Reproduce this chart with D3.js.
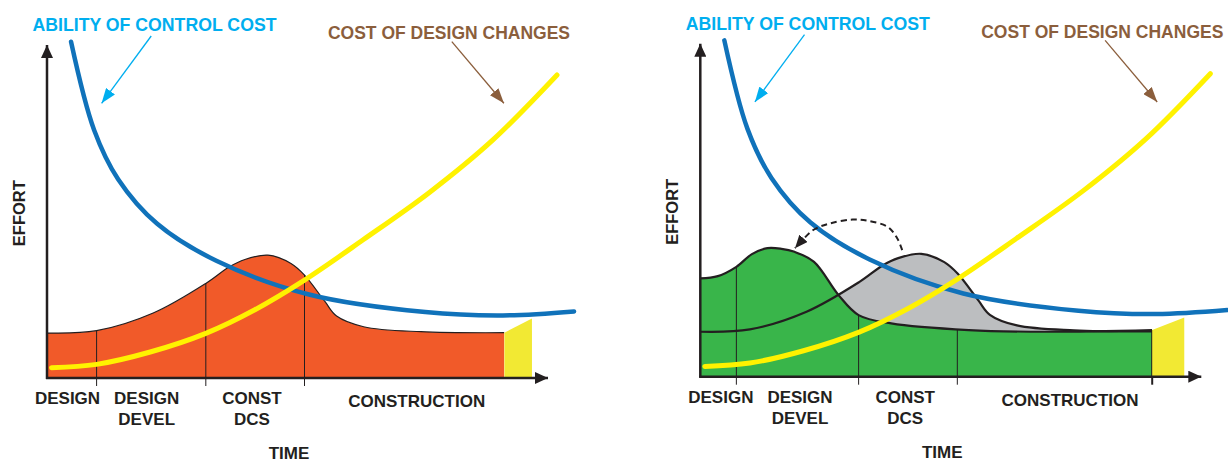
<!DOCTYPE html>
<html>
<head>
<meta charset="utf-8">
<script src="https://cdn.jsdelivr.net/npm/d3@7"></script>
<style>
  body { margin: 0; background: #fff; }
  svg { display: block; }
  text { font-family: "Liberation Sans", Arial, Helvetica, sans-serif; font-weight: bold; }
</style>
</head>
<body>
<div id="vis-container"></div>
<script>
// curves in [time, effort] units (0-100 on both axes)
var ability = [[4.8,101],[9.4,74.5],[14.2,59.7],[22,46.3],[33.8,35.2],[52.5,25],[75.5,19.8],[91,18.8],[105.2,20]]
var designCost = [[0.9,3.1],[9.9,4.1],[20.6,7.8],[31.7,13.4],[41.5,20.5],[51.4,29.4],[63.1,41.5],[76.4,55.8],[89,71.5],[101.8,91]]
var effortTraditional = [[0,13.5],[9.9,14.2],[21.2,19.5],[31.7,28.4],[36.4,33.4],[39.5,35.6],[44.1,36.9],[48.7,34.4],[51.4,30.9],[55.5,22.9],[57.8,18.6],[63.2,15.4],[74.6,13.9],[91.3,13.6]]
var effortShifted = [[0,29.5],[3.5,30.2],[7.2,33],[10.3,36.8],[13.4,38.6],[16.2,38.4],[18.8,37.5],[22.7,34.5],[27.6,24.5],[31.6,18.5],[38.1,16],[53.6,14],[69.1,13.5],[90.2,14]]
var shiftArrow = [[40.3,38],[39.3,41.6],[37.4,45],[33.5,46.8],[30.4,47.2],[25.8,46],[22.7,44.2],[20.3,40.9],[18.9,38.6]]

// phases
var phasesLeft = [9.9,31.7,51.4]
var phasesRight = [7.2,31.6,51.3]
var endLeft = 91.3
var endRight = 90.2
var closeoutLeft = [[91.3,13.6],[96.8,17.9]]
var closeoutRight = [[90.2,14],[96.6,17.8]]
var phaseLabels = [["DESIGN"],["DESIGN","DEVEL"],["CONST","DCS"],["CONSTRUCTION"]]
var phaseLabelTimes = [4.1,19.9,40.9,73.8]

// callouts
var abilityCallout = { text: "ABILITY OF CONTROL COST", at: [-2.9,104.2], from: [20.8,102.7], to: [10.9,82.5] }
var costCallout = { text: "COST OF DESIGN CHANGES", at: [104.4,101.8], from: [80.8,101], to: [91.2,82.5] }

var ink = '#231f20'
var svg = d3.select('#vis-container').append('svg')
    .attr('width',1228)
    .attr('height',463)

var defs = svg.append('defs')
function marker(id, color, len, wid) {
  defs.append('marker')
      .attr('id',id)
      .attr('markerUnits','userSpaceOnUse')
      .attr('markerWidth',len)
      .attr('markerHeight',wid)
      .attr('refX',len)
      .attr('refY',wid/2)
      .attr('orient','auto')
    .append('path')
      .attr('d','M0,0L' + len + ',' + (wid/2) + 'L0,' + wid + 'Z')
      .attr('fill',color)
}
marker('head-blue','#00aeef',15,11)
marker('head-brown','#8b5e3c',15,11)
marker('head-ink',ink,13,11)
marker('head-axis',ink,13,12)

function drawPanel(id, x0, y0, cfg) {
  var x = d3.scaleLinear().domain([0,100]).range([x0, x0 + 501])
  var y = d3.scaleLinear().domain([0,100]).range([y0, y0 - 333])
  var g = svg.append('g').attr('id',id)
  var curve = d3.curveCatmullRom.alpha(0.5)

  var area = d3.area()
      .x(function (d) { return x(d[0]) })
      .y0(y(0))
      .y1(function (d) { return y(d[1]) })
      .curve(curve)
  var line = d3.line()
      .x(function (d) { return x(d[0]) })
      .y(function (d) { return y(d[1]) })
      .curve(curve)

  // clip everything in the effort chart to the project end
  defs.append('clipPath').attr('id',id + '-end')
    .append('rect')
      .attr('x',x(0)).attr('y',0)
      .attr('width',x(cfg.end) - x(0)).attr('height',463)
  defs.append('clipPath').attr('id',id + '-front')
    .append('path')
      .attr('d',area(cfg.front.data))

  var fills = g.append('g').attr('clip-path','url(#' + id + '-end)')
  cfg.layers.forEach(function (l) {
    fills.append('path')
        .attr('d',area(l.data))
        .attr('fill',l.fill)
  })

  // phase dividers
  g.append('g').attr('clip-path','url(#' + id + '-front)')
    .selectAll('line')
      .data(cfg.phases)
      .enter()
    .append('line')
      .attr('x1',function (d) { return x(d) })
      .attr('x2',function (d) { return x(d) })
      .attr('y1',y(0))
      .attr('y2',y(100))
      .attr('stroke',ink)
      .attr('stroke-width',1)
  g.selectAll('line.tick')
      .data(cfg.phases)
      .enter()
    .append('line')
      .attr('class','tick')
      .attr('x1',function (d) { return x(d) })
      .attr('x2',function (d) { return x(d) })
      .attr('y1',y(0))
      .attr('y2',y(0) + 8)
      .attr('stroke',ink)
      .attr('stroke-width',1)

  var outlines = g.append('g').attr('clip-path','url(#' + id + '-end)')
  cfg.layers.forEach(function (l) {
    outlines.append('path')
        .attr('d',line(l.data))
        .attr('fill','none')
        .attr('stroke',ink)
        .attr('stroke-width',l.stroke)
  })

  if (cfg.endLine) {
    var endTop = cfg.front.data[cfg.front.data.length - 1][1]
    g.append('line')
        .attr('x1',x(cfg.end)).attr('x2',x(cfg.end))
        .attr('y1',y(endTop)).attr('y2',y(0) + 8)
        .attr('stroke',ink)
        .attr('stroke-width',2)
  }

  // close-out wedge
  var c = cfg.closeout
  g.append('path')
      .attr('d','M' + x(c[0][0]) + ',' + y(0) +
                'L' + x(c[0][0]) + ',' + y(c[0][1]) +
                'L' + x(c[1][0]) + ',' + y(c[1][1]) +
                'L' + x(c[1][0]) + ',' + y(0) + 'Z')
      .attr('fill','#f2e933')

  // cost curves
  g.append('path')
      .attr('d',line(ability))
      .attr('fill','none')
      .attr('stroke','#1072ba')
      .attr('stroke-width',4.5)
      .attr('stroke-linecap','round')
  g.append('path')
      .attr('d',line(designCost))
      .attr('fill','none')
      .attr('stroke','#fff200')
      .attr('stroke-width',5)
      .attr('stroke-linecap','round')

  if (cfg.shift) {
    g.append('path')
        .attr('d',line(shiftArrow))
        .attr('fill','none')
        .attr('stroke',ink)
        .attr('stroke-width',2)
        .attr('stroke-dasharray','6,4')
        .attr('marker-end','url(#head-ink)')
  }

  // axes
  g.append('line')
      .attr('x1',x(0)).attr('x2',x(0))
      .attr('y1',y(0) + 1).attr('y2',y(100))
      .attr('stroke',ink).attr('stroke-width',2.5)
      .attr('marker-end','url(#head-axis)')
  g.append('line')
      .attr('x1',x(0) - 1).attr('x2',x(100))
      .attr('y1',y(0)).attr('y2',y(0))
      .attr('stroke',ink).attr('stroke-width',2.5)
      .attr('marker-end','url(#head-axis)')

  // callouts
  g.append('text')
      .attr('x',x(abilityCallout.at[0])).attr('y',y(abilityCallout.at[1]))
      .attr('fill','#00aeef')
      .style('font-size','17.7px')
      .text(abilityCallout.text)
  g.append('line')
      .attr('x1',x(abilityCallout.from[0])).attr('y1',y(abilityCallout.from[1]))
      .attr('x2',x(abilityCallout.to[0])).attr('y2',y(abilityCallout.to[1]))
      .attr('stroke','#00aeef').attr('stroke-width',1.3)
      .attr('marker-end','url(#head-blue)')
  g.append('text')
      .attr('x',x(costCallout.at[0])).attr('y',y(costCallout.at[1]))
      .attr('text-anchor','end')
      .attr('fill','#8b5e3c')
      .style('font-size','17.5px')
      .text(costCallout.text)
  g.append('line')
      .attr('x1',x(costCallout.from[0])).attr('y1',y(costCallout.from[1]))
      .attr('x2',x(costCallout.to[0])).attr('y2',y(costCallout.to[1]))
      .attr('stroke','#8b5e3c').attr('stroke-width',1.3)
      .attr('marker-end','url(#head-brown)')

  // axis titles
  g.append('text')
      .attr('transform','translate(' + (x0 - 22) + ',' + y(49.5) + ') rotate(-90)')
      .attr('text-anchor','middle')
      .attr('fill',ink)
      .style('font-size','16.5px')
      .text('EFFORT')
  g.append('text')
      .attr('x',x(48.3)).attr('y',y0 + 81)
      .attr('text-anchor','middle')
      .attr('fill',ink)
      .style('font-size','17px')
      .text('TIME')

  // phase labels
  var labels = g.selectAll('text.phase')
      .data(phaseLabels)
      .enter()
    .append('text')
      .attr('class','phase')
      .attr('text-anchor','middle')
      .attr('fill',ink)
      .style('font-size','17px')
      .attr('y',function (d) { return d.length == 1 && d[0].length > 8 ? y0 + 29 : y0 + 26 })
  labels.selectAll('tspan')
      .data(function (d, i) { return d.map(function (s) { return { s: s, t: phaseLabelTimes[i] } }) })
      .enter()
    .append('tspan')
      .attr('x',function (d) { return x(d.t) })
      .attr('dy',function (d, i) { return i == 0 ? 0 : 21 })
      .text(function (d) { return d.s })
}

drawPanel('traditional', 47, 378, {
  end: endLeft,
  phases: phasesLeft,
  closeout: closeoutLeft,
  layers: [ { data: effortTraditional, fill: '#f15a29', stroke: 1.2 } ],
  front: { data: effortTraditional }
})

drawPanel('integrated', 700.3, 376.7, {
  end: endRight,
  phases: phasesRight,
  closeout: closeoutRight,
  layers: [ { data: effortTraditional, fill: '#bcbec0', stroke: 2.2 },
            { data: effortShifted, fill: '#39b54a', stroke: 2.2 } ],
  front: { data: effortShifted },
  endLine: true,
  shift: true
})
</script>
</body>
</html>
